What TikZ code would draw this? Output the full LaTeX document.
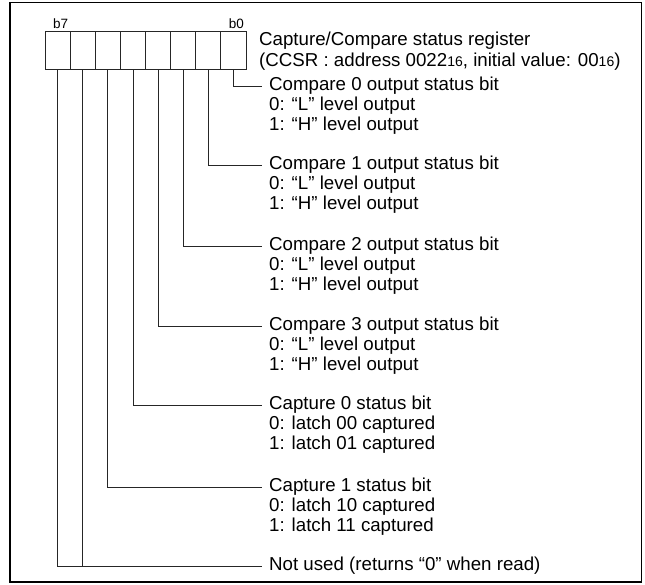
\documentclass[tikz,border=0pt]{standalone}
\usepackage{fontspec}
\setmainfont{Liberation Sans}
\usetikzlibrary{positioning}
\newcommand{\hexsub}[1]{{\fontsize{14}{14}\selectfont #1}}

\begin{document}
\begin{tikzpicture}[x=1pt,y=-1pt,font=\fontsize{18.7}{21}\selectfont,
 cell/.style={draw=black!85,line width=.8pt,minimum width=25.125pt,minimum height=38pt,inner sep=0,outer sep=0},
 bitlbl/.style={font=\fontsize{13.5}{13.5}\selectfont,inner sep=0},
 ttl/.style={anchor=west,inner xsep=7pt,inner ysep=0,text height=13.4pt,text depth=4pt},
 dtl/.style={anchor=north west,align=left,inner xsep=7pt,inner ysep=0,font=\fontsize{18.7}{19.5}\selectfont},
 ln/.style={draw=black!85,line width=.8pt}]
\useasboundingbox (0,0) rectangle (645,584);
\draw[line width=1.6pt] (10,2.5) rectangle (641.5,582);
% register cells, c0 = b0 on the right
\foreach \i in {0,...,7} \node[cell] (c\i) at ({246-25.125*(\i+.5)},50) {};
\node[bitlbl,above=1.7pt of c7.north,xshift=3pt] (b7) {b7};
\node[bitlbl,above=1.7pt of c0.north,xshift=3pt] (b0) {b0};
\node[anchor=west,align=left,inner sep=0] (reg) at (259,51) {Capture/Compare status register\\(CCSR : address 0022\hexsub{16}, initial value: 00\hexsub{16})};
% bit descriptions
\node[ttl] (t0) at (262,86) {Compare 0 output status bit};
\node[dtl] (d0) at ([yshift=-2.2pt]t0.south west) {0: “L” level output\\1: “H” level output};
\node[ttl] (t1) at (262,165) {Compare 1 output status bit};
\node[dtl] (d1) at ([yshift=-2.2pt]t1.south west) {0: “L” level output\\1: “H” level output};
\node[ttl] (t2) at (262,246) {Compare 2 output status bit};
\node[dtl] (d2) at ([yshift=-2.2pt]t2.south west) {0: “L” level output\\1: “H” level output};
\node[ttl] (t3) at (262,326) {Compare 3 output status bit};
\node[dtl] (d3) at ([yshift=-2.2pt]t3.south west) {0: “L” level output\\1: “H” level output};
\node[ttl] (t4) at (262,405) {Capture 0 status bit};
\node[dtl] (d4) at ([yshift=-2.2pt]t4.south west) {0: latch 00 captured\\1: latch 01 captured};
\node[ttl] (t5) at (262,487) {Capture 1 status bit};
\node[dtl] (d5) at ([yshift=-2.2pt]t5.south west) {0: latch 10 captured\\1: latch 11 captured};
\node[ttl] (t6) at (262,566) {Not used (returns “0” when read)};
% leaders
\foreach \i in {0,...,5} \draw[ln] (c\i.south) |- (t\i.west);
\draw[ln] (c6.south) |- (t6.west);\draw[ln] (c7.south) |- (t6.west);
\end{tikzpicture}
\end{document}
